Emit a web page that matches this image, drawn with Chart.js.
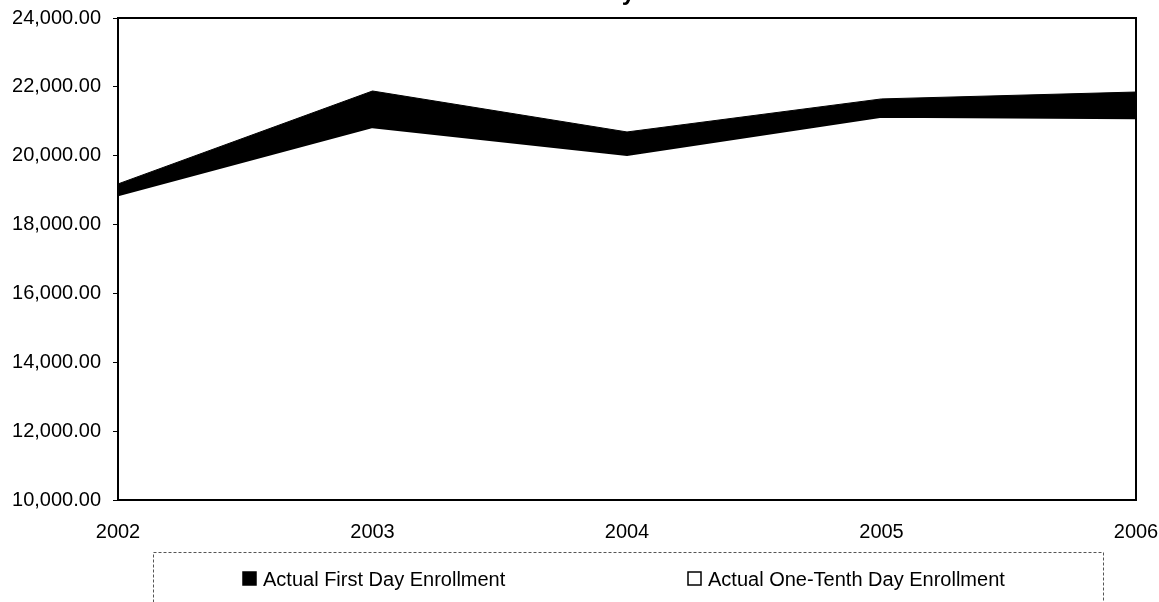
<!DOCTYPE html>
<html>
<head>
<meta charset="utf-8">
<script src="https://cdn.jsdelivr.net/npm/chart.js@4"></script>
<style>
  body { margin: 0; background: #fff; }
  .chart-wrapper { width: 1159px; height: 602px; }
</style>
</head>
<body>
<div class="chart-wrapper"><canvas class="charts" width="1159" height="602"></canvas></div>
<script>
const years = ['2002', '2003', '2004', '2005', '2006'];
const firstDay = [19180, 21880, 20690, 21650, 21850];
const oneTenthDay = [18850, 20830, 20020, 21130, 21090];
const yTicks = [10000, 12000, 14000, 16000, 18000, 20000, 22000, 24000];
// only the bottom of the title's last line shows in the picture
const chartTitle = 'First Day Enrollment';

const font = 'Arial, "Liberation Sans", sans-serif';

// plot frame + legend box drawn by hand, the old spreadsheet look
const frame = {
  id: 'frame',
  afterDraw(chart) {
    const { ctx, chartArea: a } = chart;
    ctx.save();
    ctx.strokeStyle = '#000';
    ctx.lineWidth = 2;
    ctx.strokeRect(a.left, a.top, a.right - a.left, a.bottom - a.top);

    ctx.fillStyle = '#000';
    ctx.font = 'bold 24px ' + font;
    ctx.textAlign = 'right';
    ctx.textBaseline = 'alphabetic';
    ctx.fillText(chartTitle, 767, 0);

    // legend
    ctx.setLineDash([3, 2]);
    ctx.lineWidth = 1;
    ctx.strokeStyle = '#555';
    ctx.strokeRect(153.5, 552.5, 950, 70);
    ctx.setLineDash([]);
    ctx.font = '20px ' + font;
    ctx.textAlign = 'left';
    ctx.textBaseline = 'middle';
    const xs = [243, 688];
    chart.data.datasets.forEach((ds, i) => {
      const x = xs[i];
      ctx.fillStyle = ds.backgroundColor;
      ctx.fillRect(x, 572, 13, 13);
      ctx.strokeStyle = '#000';
      ctx.lineWidth = 1.5;
      ctx.strokeRect(x, 572, 13, 13);
      ctx.fillStyle = '#000';
      ctx.fillText(ds.label, x + 20, 580);
    });
    ctx.restore();
  }
};

new Chart(document.querySelector('.charts').getContext('2d'), {
  type: 'line',
  data: {
    labels: years,
    datasets: [{
      label: 'Actual First Day Enrollment',
      data: firstDay,
      backgroundColor: '#000',
      borderColor: '#000',
      borderWidth: 1,
      fill: 'start',
      pointRadius: 0,
      order: 1,
    }, {
      label: 'Actual One-Tenth Day Enrollment',
      data: oneTenthDay,
      backgroundColor: '#fff',
      borderColor: '#000',
      borderWidth: 2,
      fill: 'start',
      pointRadius: 0,
      order: 0,
    }],
  },
  options: {
    responsive: false,
    animation: false,
    layout: { padding: { top: 18, right: 23, bottom: 62, left: 0 } },
    plugins: {
      legend: { display: false },
      tooltip: { enabled: false },
      title: { display: false },
    },
    scales: {
      x: {
        offset: false,
        grid: { display: false, drawTicks: false },
        border: { display: false },
        ticks: {
          color: '#000',
          font: { family: font, size: 20 },
          padding: 20,
          maxRotation: 0,
          autoSkip: false,
        },
        afterFit(scale) {
          scale.height = 40;
          scale.paddingLeft = 0;
          scale.paddingRight = 0;
        },
      },
      y: {
        min: 10000,
        max: 24000,
        afterBuildTicks(scale) { scale.ticks = yTicks.map(v => ({ value: v })); },
        grid: { drawOnChartArea: false, tickLength: 5, color: '#000' },
        border: { display: false },
        ticks: {
          color: '#000',
          font: { family: font, size: 20 },
          padding: 12,
          callback: v => v.toLocaleString('en-US', { minimumFractionDigits: 2, maximumFractionDigits: 2 }),
        },
        afterFit(scale) {
          scale.width = 118;
          scale.paddingTop = 0;
          scale.paddingBottom = 0;
        },
      },
    },
  },
  plugins: [frame],
});
</script>
</body>
</html>
